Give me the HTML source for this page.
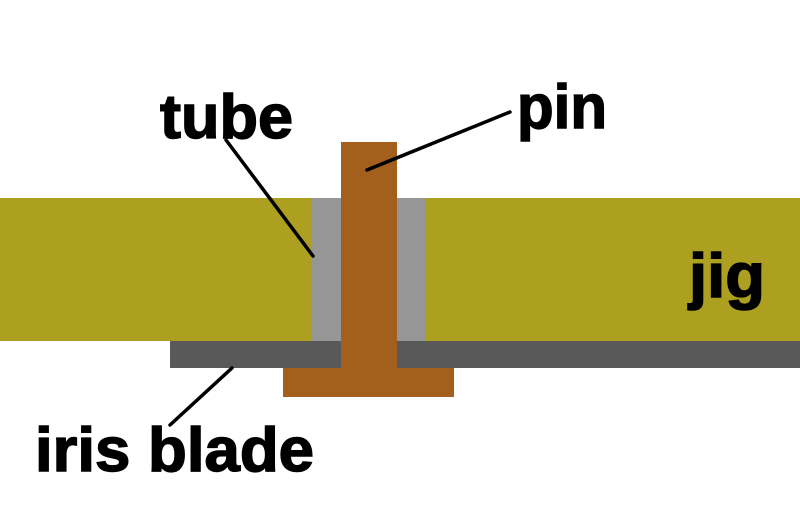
<!DOCTYPE html>
<html><head><meta charset="utf-8"><style>html,body{margin:0;padding:0;background:#fff}</style></head>
<body>
<svg width="800" height="500" viewBox="0 0 800 500" xmlns="http://www.w3.org/2000/svg">
<rect width="800" height="500" fill="#fff"/>
<rect x="0" y="198" width="311" height="143" fill="#ada020"/>
<rect x="426" y="198" width="374" height="143" fill="#ada020"/>
<rect x="311" y="198" width="30" height="143" fill="#969696"/>
<rect x="397" y="198" width="29" height="143" fill="#969696"/>
<rect x="170" y="341" width="630" height="27" fill="#595959"/>
<rect x="283" y="368" width="171" height="29" fill="#a2601c"/>
<rect x="341" y="142" width="56" height="226" fill="#a2601c"/>
<g stroke="#000" stroke-width="3.5" stroke-linecap="round">
<line x1="226" y1="140" x2="313" y2="256"/>
<line x1="510" y1="112" x2="367" y2="170"/>
<line x1="232" y1="368" x2="170" y2="425"/>
</g>
<g font-family="Liberation Sans, sans-serif" font-weight="bold" font-size="62" fill="#000" stroke="#000" stroke-width="1.5">
<text x="160" y="138" textLength="133" lengthAdjust="spacingAndGlyphs">tube</text>
<text x="517" y="128" textLength="90" lengthAdjust="spacingAndGlyphs">pin</text>
<text x="689" y="297" textLength="76" lengthAdjust="spacingAndGlyphs">jig</text>
<text x="35" y="471" textLength="279" lengthAdjust="spacingAndGlyphs">iris blade</text>
</g>
</svg>
</body></html>
